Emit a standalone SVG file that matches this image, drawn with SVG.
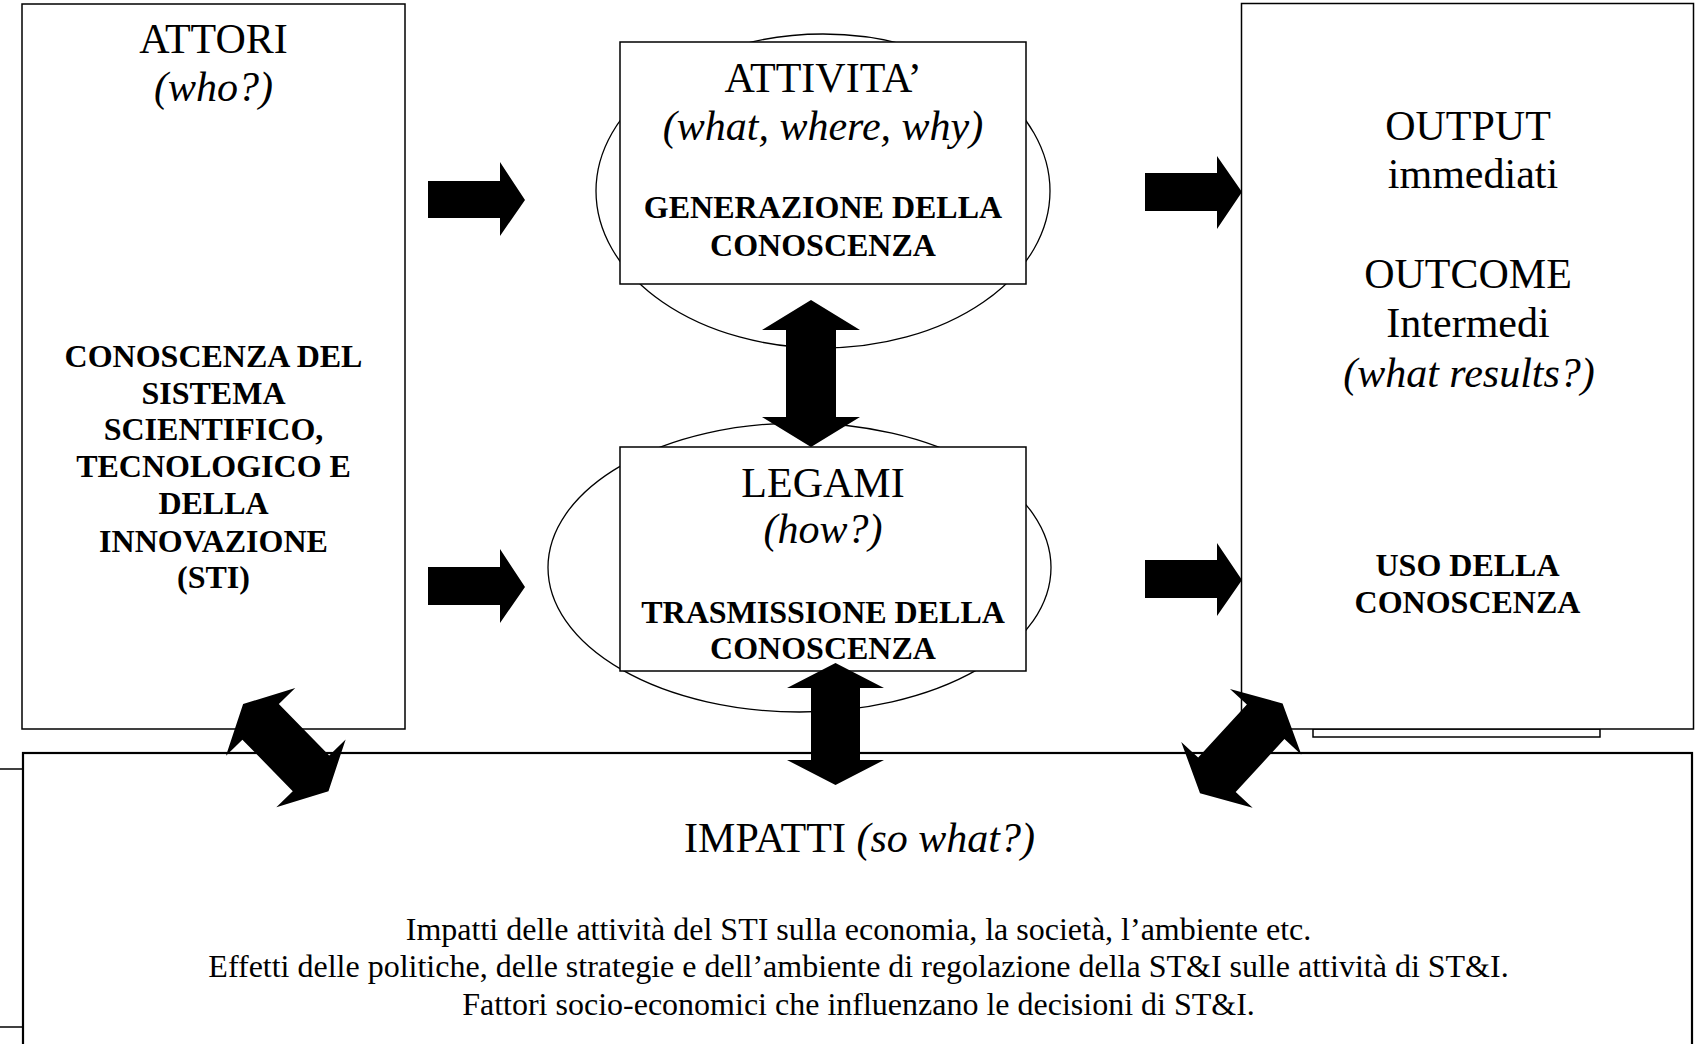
<svg xmlns="http://www.w3.org/2000/svg" width="1695" height="1044" viewBox="0 0 1695 1044">
<style>
.box{fill:#fff;stroke:#000;stroke-width:1.5}
.ell{fill:#fff;stroke:#000;stroke-width:1.3}
.arr{fill:#000;stroke:none}
.t{font-family:"Liberation Serif","Times New Roman",serif;fill:#000;text-anchor:middle}
.h{font-size:42px}
.i{font-style:italic}
.b{font-size:32px;font-weight:bold}
.s{font-size:32px}
</style>
<defs>
<path id="dbl" d="M-61,0 L-36,-48.5 V-25.5 H36 V-48.5 L61,0 L36,48.5 V25.5 H-36 V48.5 Z"/>
</defs>
<rect width="1695" height="1044" fill="#fff"/>

<g id="attori">
<rect class="box" x="22" y="4" width="383" height="725"/>
<text class="t h" x="213.5" y="53">ATTORI</text>
<text class="t h i" x="213.5" y="101">(who?)</text>
<text class="t b" x="213.5" y="367">CONOSCENZA DEL</text>
<text class="t b" x="213.5" y="404">SISTEMA</text>
<text class="t b" x="213.5" y="440">SCIENTIFICO,</text>
<text class="t b" x="213.5" y="477">TECNOLOGICO E</text>
<text class="t b" x="213.5" y="514">DELLA</text>
<text class="t b" x="213.5" y="552">INNOVAZIONE</text>
<text class="t b" x="213.5" y="588">(STI)</text>
</g>

<g id="attivita">
<ellipse class="ell" cx="823" cy="191" rx="227" ry="157"/>
<rect class="box" x="620" y="42" width="406" height="242"/>
<text class="t h" x="823" y="92">ATTIVITA’</text>
<text class="t h i" x="823" y="140">(what, where, why)</text>
<text class="t b" x="823" y="218">GENERAZIONE DELLA</text>
<text class="t b" x="823" y="256">CONOSCENZA</text>
</g>

<g id="legami">
<ellipse class="ell" cx="799.5" cy="567.5" rx="251.5" ry="144.5"/>
<rect class="box" x="620" y="447" width="406" height="224"/>
<text class="t h" x="823" y="497">LEGAMI</text>
<text class="t h i" x="823" y="543">(how?)</text>
<text class="t b" x="823" y="623">TRASMISSIONE DELLA</text>
<text class="t b" x="823" y="659">CONOSCENZA</text>
</g>

<g id="output">
<rect class="box" x="1313" y="729" width="287" height="8"/>
<rect class="box" x="1241.5" y="3.5" width="452" height="725.5"/>
<text class="t h" x="1468" y="140">OUTPUT</text>
<text class="t h" x="1473" y="188">immediati</text>
<text class="t h" x="1468" y="288">OUTCOME</text>
<text class="t h" x="1468" y="337">Intermedi</text>
<text class="t h i" x="1469" y="387">(what results?)</text>
<text class="t b" x="1467.5" y="576">USO DELLA</text>
<text class="t b" x="1467.5" y="613">CONOSCENZA</text>
</g>

<g id="impatti">
<rect x="23" y="753" width="1669" height="400" fill="#fff" stroke="#000" stroke-width="2.2"/>
<line x1="0" y1="769" x2="23" y2="769" stroke="#000" stroke-width="1.5"/>
<line x1="0" y1="1027" x2="23" y2="1027" stroke="#000" stroke-width="1.5"/>
<text class="t h" x="859.5" y="852">IMPATTI <tspan class="i">(so what?)</tspan></text>
<text class="t s" x="858.5" y="940">Impatti delle attività del STI sulla economia, la società, l’ambiente etc.</text>
<text class="t s" x="858.5" y="977">Effetti delle politiche, delle strategie e dell’ambiente di regolazione della ST&amp;I sulle attività di ST&amp;I.</text>
<text class="t s" x="858.5" y="1015">Fattori socio-economici che influenzano le decisioni di ST&amp;I.</text>
</g>

<g id="connectors">
<path class="arr" d="M428,181 H500 V162 L525,200 L500,236 V218 H428 Z"/>
<path class="arr" d="M428,567 H500 V549 L525,587 L500,623 V605 H428 Z"/>
<path class="arr" d="M1145,173 H1217 V156 L1242,192 L1217,229 V211 H1145 Z"/>
<path class="arr" d="M1145,560 H1217 V543 L1242,580 L1217,616 V598 H1145 Z"/>
<path class="arr" d="M811,300 L860,330 H836 V417 H860 L811,447 L762,417 H786 V330 H762 Z"/>
<path class="arr" d="M835.5,663 L884,688 H860 V760 H884 L835.5,785 L787,760 H811 V688 H787 Z"/>
<use href="#dbl" class="arr" transform="translate(285.8,747.6) rotate(45.6)"/>
<use href="#dbl" class="arr" transform="translate(1241.3,748.3) rotate(-47.4)"/>
</g>
</svg>
